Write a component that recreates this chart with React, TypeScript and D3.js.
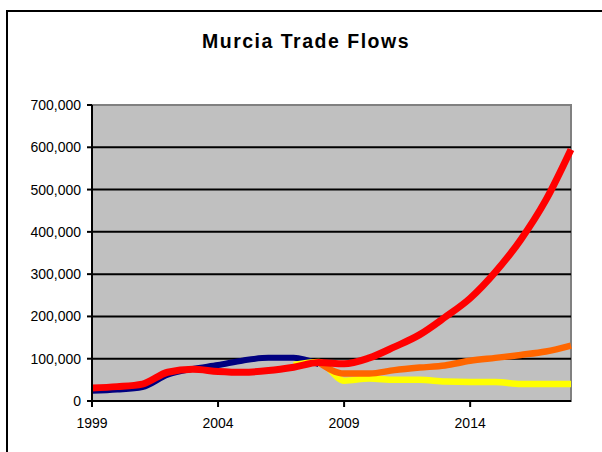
import React from "react";
import * as d3 from "d3";

const years = [1999, 2000, 2001, 2002, 2003, 2004, 2005, 2006, 2007, 2008, 2009, 2010, 2011, 2012, 2013, 2014, 2015, 2016, 2017, 2018];

// Navy series (1999-2008)
const navyYears = [1999, 2000, 2001, 2002, 2003, 2004, 2005, 2006, 2007, 2008];
const navyValues = [24000, 27000, 33000, 62000, 76000, 85000, 96000, 102000, 102000, 87000];

// Yellow series (2007-2018)
const yellowYears = [2007, 2008, 2009, 2010, 2011, 2012, 2013, 2014, 2015, 2016, 2017, 2018];
const yellowValues = [85000, 92000, 48000, 53000, 50000, 50000, 46000, 45000, 45000, 40000, 40000, 40000];

// Orange series (2008-2018)
const orangeYears = [2008, 2009, 2010, 2011, 2012, 2013, 2014, 2015, 2016, 2017, 2018];
const orangeValues = [91000, 65000, 65000, 73000, 79000, 84000, 95000, 102000, 109000, 117000, 131000];

// Red series (1999-2018)
const redValues = [31000, 34000, 40000, 68000, 75000, 70000, 68000, 72000, 80000, 91000, 88000, 102000, 128000, 157000, 198000, 243000, 305000, 381000, 475000, 595000];

const yTicks = [0, 100000, 200000, 300000, 400000, 500000, 600000, 700000];
const xTicks = [1999, 2004, 2009, 2014];

const W = 602;
const H = 452;
const left = 92;
const right = 571;
const top = 105;
const bottom = 401;

export default function App() {
  const x = d3.scaleLinear().domain([1999, 2018]).range([left, right]);
  const y = d3.scaleLinear().domain([0, 700000]).range([bottom, top]);
  const fmt = d3.format(",");

  const line = d3
    .line<[number, number]>()
    .x((d) => x(d[0]))
    .y((d) => y(d[1]))
    .curve(d3.curveMonotoneX);

  const series = [
    { name: "navy", color: "#000080", width: 6, pts: navyYears.map((yr, i) => [yr, navyValues[i]] as [number, number]) },
    { name: "yellow", color: "#FFFF00", width: 6.5, pts: yellowYears.map((yr, i) => [yr, yellowValues[i]] as [number, number]) },
    { name: "orange", color: "#FF6600", width: 6.5, pts: orangeYears.map((yr, i) => [yr, orangeValues[i]] as [number, number]) },
    { name: "red", color: "#FF0000", width: 7, pts: years.map((yr, i) => [yr, redValues[i]] as [number, number]) },
  ];

  const font = "'Liberation Sans', Arial, sans-serif";

  return (
    <svg width={W} height={H} style={{ position: "absolute", left: 0, top: 0, background: "#fff" }}>
      <rect x={0} y={0} width={W} height={H} fill="#fff" />
      {/* outer frame */}
      <rect x={7} y={11} width={W + 20} height={H + 20} fill="none" stroke="#000" strokeWidth={2} />
      {/* title */}
      <text x={306} y={48} textAnchor="middle" fontFamily={font} fontWeight="bold" fontSize={19.5} letterSpacing={1.5} fill="#000">
        Murcia Trade Flows
      </text>
      {/* plot area */}
      <rect x={left} y={top} width={right - left} height={bottom - top} fill="#C0C0C0" stroke="#808080" strokeWidth={2} />
      {/* gridlines */}
      {yTicks.filter((t) => t > 0 && t < 700000).map((t) => (
        <line key={"g" + t} x1={left} x2={right} y1={y(t)} y2={y(t)} stroke="#000" strokeWidth={2} />
      ))}
      {/* series */}
      {series.map((s) => (
        <path key={s.name} d={line(s.pts) || ""} fill="none" stroke={s.color} strokeWidth={s.width} strokeLinejoin="round" />
      ))}
      {/* axes */}
      <line x1={left} x2={left} y1={top} y2={bottom + 1} stroke="#000" strokeWidth={2} />
      <line x1={left - 1} x2={right} y1={bottom} y2={bottom} stroke="#000" strokeWidth={2} />
      {yTicks.map((t) => (
        <g key={"y" + t}>
          <line x1={left - 5} x2={left} y1={y(t)} y2={y(t)} stroke="#000" strokeWidth={2} />
          <text x={81} y={y(t)} dy="0.36em" textAnchor="end" fontFamily={font} fontSize={14} fill="#000">
            {fmt(t)}
          </text>
        </g>
      ))}
      {xTicks.map((t) => (
        <g key={"x" + t}>
          <line x1={x(t)} x2={x(t)} y1={bottom} y2={bottom + 6} stroke="#000" strokeWidth={2} />
          <text x={x(t)} y={428} textAnchor="middle" fontFamily={font} fontSize={14} fill="#000">
            {t}
          </text>
        </g>
      ))}
    </svg>
  );
}
